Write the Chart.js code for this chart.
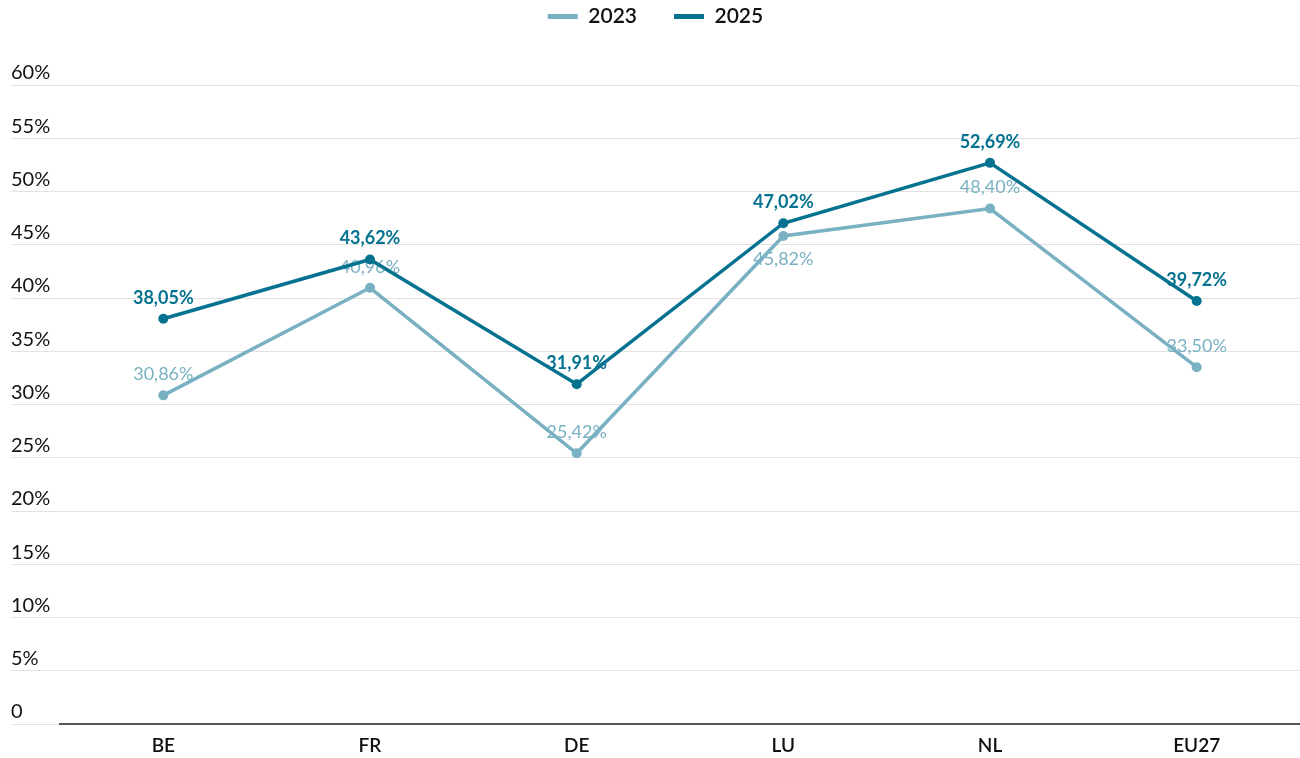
<!DOCTYPE html>
<html>
<head>
<meta charset="utf-8">
<script src="https://cdn.jsdelivr.net/npm/chart.js@4/dist/chart.umd.min.js"></script>
<style>
  html, body { margin: 0; padding: 0; background: #fff; }
  #wrap { width: 1300px; height: 758px; position: relative; }
</style>
</head>
<body>
<div id="wrap"><canvas id="c" width="1300" height="758"></canvas></div>
<script>
const categories = ['BE', 'FR', 'DE', 'LU', 'NL', 'EU27'];
const values2023 = [30.86, 40.96, 25.42, 45.82, 48.40, 33.50];
const values2025 = [38.05, 43.62, 31.91, 47.02, 52.69, 39.72];
const yTicks = [0, 5, 10, 15, 20, 25, 30, 35, 40, 45, 50, 55, 60];

const C2023 = '#79b1c3';
const C2025 = '#05728f';

function fmt(v) { return v.toFixed(2).replace('.', ',') + '%'; }

const labelPlugin = {
  id: 'pointLabels',
  beforeDatasetsDraw(chart) {
    const ctx = chart.ctx;
    ctx.save();
    ctx.textAlign = 'center';
    ctx.textBaseline = 'middle';
    chart.data.datasets.forEach((ds, di) => {
      const meta = chart.getDatasetMeta(di);
      ctx.font = ds.labelFont;
      ctx.fillStyle = ds.borderColor;
      meta.data.forEach((pt, i) => {
        const below = ds.labelBelow && ds.labelBelow[i];
        const y = below ? pt.y + 23 : pt.y - 21;
        ctx.fillText(fmt(ds.data[i]), pt.x, y);
      });
    });
    ctx.restore();
  }
};

new Chart(document.getElementById('c'), {
  type: 'line',
  data: {
    labels: categories,
    datasets: [
      {
        label: '2025',
        data: values2025,
        borderColor: C2025,
        backgroundColor: C2025,
        borderWidth: 3.5,
        pointRadius: 5,
        pointHoverRadius: 5,
        pointBorderWidth: 0,
        labelFont: 'bold 18px Lato',
        labelBelow: [false, false, false, false, false, false]
      },
      {
        label: '2023',
        data: values2023,
        borderColor: C2023,
        backgroundColor: C2023,
        borderWidth: 3.5,
        pointRadius: 5,
        pointHoverRadius: 5,
        pointBorderWidth: 0,
        labelFont: '18px Lato',
        labelBelow: [false, false, false, true, false, false]
      }
    ]
  },
  options: {
    responsive: false,
    animation: false,
    devicePixelRatio: 1,
    layout: { autoPadding: false, padding: { left: 11, right: 0, top: -31, bottom: 0 } },
    plugins: {
      legend: {
        position: 'top',
        labels: {
          boxWidth: 30,
          boxHeight: 5,
          padding: 37,
          font: { family: 'Lato', size: 21, weight: '600' },
          color: '#111',
          sort: (a, b) => b.datasetIndex - a.datasetIndex,
          generateLabels(chart) {
            const items = Chart.defaults.plugins.legend.labels.generateLabels(chart);
            items.forEach(it => { it.lineWidth = 0; });
            return items;
          }
        }
      },
      tooltip: { enabled: false }
    },
    scales: {
      x: {
        offset: true,
        grid: { display: false, drawTicks: false },
        border: { display: true, color: '#555', width: 2 },
        afterFit(scale) { scale.height = 34; },
        ticks: {
          padding: 10,
          maxRotation: 0,
          color: '#111',
          font: { family: 'Lato', size: 19, weight: '600' }
        }
      },
      xTop: {
        type: 'category',
        position: 'top',
        display: true,
        grid: { display: false, drawTicks: false },
        border: { display: false },
        ticks: { display: false },
        afterFit(scale) { scale.height = 48; }
      },
      y: {
        min: 0,
        max: 60,
        afterBuildTicks(scale) { scale.ticks = yTicks.map(v => ({ value: v })); },
        afterFit(scale) { scale.width = 49; },
        grid: { color: '#e2e2e2', lineWidth: 1, tickLength: 49, tickColor: '#e2e2e2' },
        border: { display: false },
        ticks: {
          crossAlign: 'far',
          padding: 0,
          labelOffset: -12,
          color: '#111',
          font: { family: 'Lato', size: 20 },
          callback: v => v === 0 ? '0' : v + '%'
        }
      }
    }
  },
  plugins: [labelPlugin]
});
</script>
</body>
</html>
